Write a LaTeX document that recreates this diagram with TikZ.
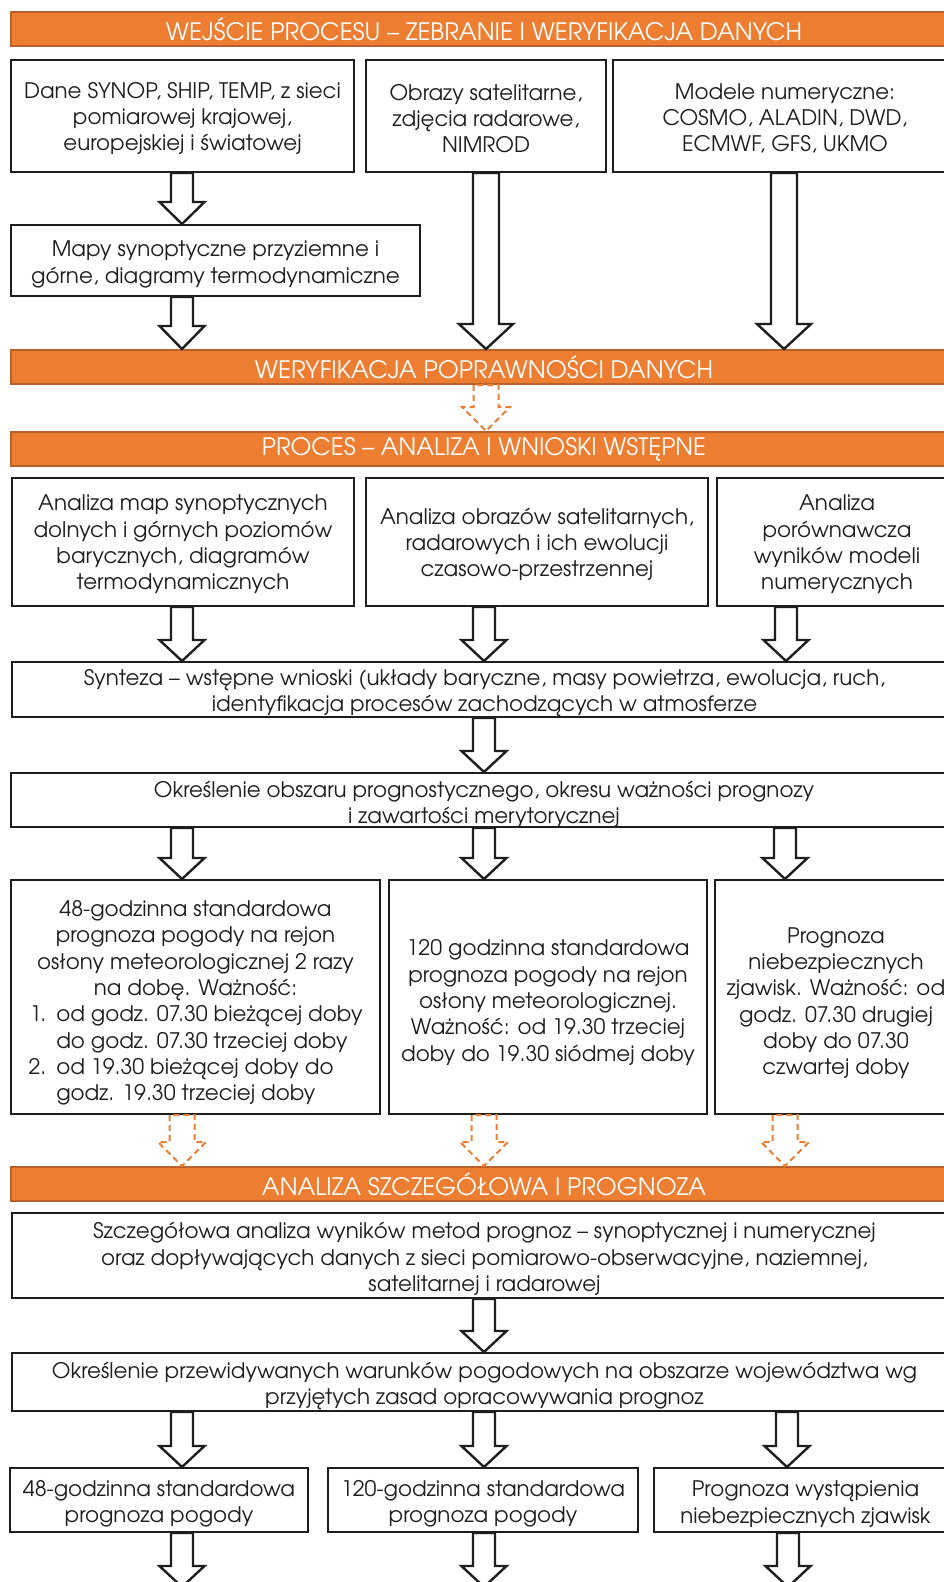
\documentclass[tikz,border=0pt]{standalone}
\usepackage{fontspec}
\usepackage{graphicx}
\setmainfont{texgyreadventor-regular.otf}
\usetikzlibrary{calc}

\definecolor{barfill}{HTML}{ED7D31}
\definecolor{barline}{HTML}{B8612A}
\definecolor{ink}{HTML}{1E1E1E}

\newcommand\bodyfont{\fontsize{21.4}{26.3}\selectfont}
\newcommand\barfont{\fontsize{24}{28}\selectfont}

\tikzset{
  panel/.style={draw=ink, line width=2pt, fill=white, inner sep=0pt},
  ptext/.style={inner sep=0pt, align=center, text=ink, font=\bodyfont},
  bar/.style={draw=barline, line width=2pt, fill=barfill, inner sep=0pt,
              text=white, font=\barfont},
  blk/.style={draw=ink, line width=2.4pt, fill=white, line join=miter},
  dsh/.style={draw=barfill, line width=2pt, dash pattern=on 6pt off 4pt,
              fill=white, line join=miter}
}

% framed box spanning the corners (#3,#4)-(#5,#6); its text (#7) is
% set on the box centre, lowered by #1
\newcommand\panel[7][3.5]{%
  \node[panel,minimum width={(#5-#3)*1pt},minimum height={(#6-#4)*1pt}]
    (#2) at ({(#3+#5)/2},{(#4+#6)/2}) {};
  \node[ptext] (#2t) at ([yshift=-#1pt]#2.center) {#7};}
% orange heading bar spanning (#2,#3)-(#4,#5), text squeezed to width #6
\newcommand\barpanel[7]{%
  \node[bar,minimum width={(#4-#2)*1pt},minimum height={(#5-#3)*1pt}]
    (#1) at ({(#2+#4)/2},{(#3+#5)/2}) {\resizebox{#6pt}{\height}{#7}};}
% hollow block arrow from the top point #2 down to the bottom point #3;
% #4 half shaft width, #5 half head width, #6 head length
\newcommand\fatarrow[6][blk]{%
  \draw[#1] let \p1=(#2), \p2=(#3) in
    (\x1-#4pt,\y1) -- (\x1-#4pt,\y2+#6pt) -- (\x1-#5pt,\y2+#6pt) -- (\x1,\y2)
    -- (\x1+#5pt,\y2+#6pt) -- (\x1+#4pt,\y2+#6pt) -- (\x1+#4pt,\y1) -- cycle;}

\begin{document}
\begin{tikzpicture}[x=1pt,y=-1pt]
\useasboundingbox (0,0) rectangle (944,1582);
\fill[white] (0,0) rectangle (944,1582);
\clip (0,0) rectangle (944,1582);

% column axes of the arrows
\coordinate (c1) at (182,0);
\coordinate (c2) at (484,0);
\coordinate (c3) at (786,0);

% ---- input stage
\barpanel{b1}{11}{12}{957}{46}{636}{WEJŚCIE PROCESU – ZEBRANIE I WERYFIKACJA DANYCH}
\panel[2.5]{inA}{11}{60}{354}{172}{Dane SYNOP, SHIP, TEMP, z sieci\\pomiarowej krajowej,\\europejskiej i światowej}
\panel[2.5]{inB}{366}{60}{606}{172}{Obrazy satelitarne,\\zdjęcia radarowe,\\NIMROD}
\panel[2.5]{inC}{613}{60}{957}{172}{Modele numeryczne:\\COSMO, ALADIN, DWD,\\ECMWF, GFS, UKMO}
\panel[4]{maps}{11}{225}{420}{296}{Mapy synoptyczne przyziemne i\\górne, diagramy termodynamiczne}
\barpanel{b2}{11}{350}{957}{384}{458}{WERYFIKACJA POPRAWNOŚCI DANYCH}

\fatarrow{inA.south -| c1}{maps.north -| c1}{11}{22.5}{22}
\fatarrow{maps.south -| c1}{b2.north -| c1}{11}{22.5}{23}
\fatarrow{inB.south}{b2.north -| inB.south}{13}{27}{25}
\fatarrow{inC.south -| 784,0}{b2.north -| 784,0}{13}{27}{25}

% ---- preliminary analysis
\barpanel{b3}{11}{432}{957}{466}{444}{PROCES – ANALIZA I WNIOSKI WSTĘPNE}
\fatarrow[dsh]{b2.south -| 486,0}{b3.north -| 486,0}{12.5}{24}{24}

\panel[2.5]{anA}{12}{478}{354}{606}{Analiza map synoptycznych\\dolnych i górnych poziomów\\barycznych, diagramów\\termodynamicznych}
\panel[2.5]{anB}{366}{478}{708}{606}{Analiza obrazów satelitarnych,\\radarowych i ich ewolucji\\czasowo-przestrzennej}
\panel[2.5]{anC}{717}{478}{957}{606}{Analiza\\porównawcza\\wyników modeli\\numerycznych}
\panel{synth}{12}{662}{957}{717}{Synteza – wstępne wnioski (układy baryczne, masy powietrza, ewolucja, ruch,\\identyfikacja procesów zachodzących w atmosferze}
\fatarrow{anA.south -| c1}{synth.north -| c1}{11}{22.5}{21}
\fatarrow{anB.south -| c2}{synth.north -| c2}{11}{22.5}{21}
\fatarrow{anC.south -| c3}{synth.north -| c3}{11}{22.5}{21}

\panel[4]{scope1}{11}{773}{957}{827}{Określenie obszaru prognostycznego, okresu ważności prognozy\\i zawartości merytorycznej}
\fatarrow{synth.south -| c2}{scope1.north -| c2}{11}{22.5}{21}

\panel[7.5]{fcA}{11}{880}{380}{1114}{48-godzinna standardowa\\prognoza pogody na rejon\\osłony meteorologicznej 2 razy\\na dobę. Ważność:\\\begin{tabular}[t]{@{}r@{\hspace{10pt}}l@{}}1.&od godz. 07.30 bieżącej doby\\&do godz. 07.30 trzeciej doby\\2.&od 19.30 bieżącej doby do\\&godz. 19.30 trzeciej doby\end{tabular}}
\panel[5.5]{fcB}{389}{880}{707}{1114}{120 godzinna standardowa\\prognoza pogody na rejon\\osłony meteorologicznej.\\Ważność: od 19.30 trzeciej\\doby do 19.30 siódmej doby}
\panel[6]{fcC}{715}{880}{957}{1114}{Prognoza\\niebezpiecznych\\zjawisk. Ważność: od\\godz. 07.30 drugiej\\doby do 07.30\\czwartej doby}
\fatarrow{scope1.south -| c1}{fcA.north -| c1}{11}{22.5}{21}
\fatarrow{scope1.south -| c2}{fcB.north -| c2}{11}{22.5}{21}
\fatarrow{scope1.south -| 785,0}{fcC.north -| 785,0}{11}{22.5}{21}

% ---- detailed analysis
\barpanel{b4}{11}{1167}{957}{1201}{444}{ANALIZA SZCZEGÓŁOWA I PROGNOZA}
\fatarrow[dsh]{fcA.south -| c1}{b4.north -| c1}{12.5}{24}{24}
\fatarrow[dsh]{fcB.south -| c2}{b4.north -| c2}{12.5}{24}{24}
\fatarrow[dsh]{fcC.south -| 785,0}{b4.north -| 785,0}{12.5}{24}{24}

\panel{detail}{12}{1213}{957}{1298}{Szczegółowa analiza wyników metod prognoz – synoptycznej i numerycznej\\oraz dopływających danych z sieci pomiarowo-obserwacyjne, naziemnej,\\satelitarnej i radarowej}
\panel[4]{cond}{12}{1353}{957}{1411}{Określenie przewidywanych warunków pogodowych na obszarze województwa wg\\przyjętych zasad opracowywania prognoz}
\fatarrow{detail.south -| c2}{cond.north -| c2}{11}{22.5}{21}

\panel[4]{outA}{10}{1468}{308}{1532}{48-godzinna standardowa\\prognoza pogody}
\panel[4]{outB}{328}{1468}{638}{1532}{120-godzinna standardowa\\prognoza pogody}
\panel[4]{outC}{654}{1468}{957}{1532}{Prognoza wystąpienia\\niebezpiecznych zjawisk}
\fatarrow{cond.south -| c1}{outA.north -| c1}{11}{22.5}{21}
\fatarrow{cond.south -| c2}{outB.north -| c2}{11}{22.5}{21}
\fatarrow{cond.south -| 787,0}{outC.north -| 787,0}{11}{22.5}{21}

% outgoing arrows continue below the last row
\coordinate (exit) at (0,1587);
\fatarrow{outA.south -| c1}{exit -| c1}{11}{22.5}{21}
\fatarrow{outB.south -| c2}{exit -| c2}{11}{22.5}{21}
\fatarrow{outC.south -| 788,0}{exit -| 788,0}{11}{22.5}{21}
\end{tikzpicture}
\end{document}
